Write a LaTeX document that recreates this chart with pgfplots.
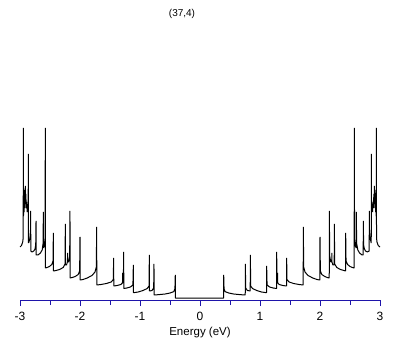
\documentclass[border=0pt]{standalone}
\usepackage{pgfplots}
\pgfplotsset{compat=1.18}
\usepackage{fontspec}
\setmainfont{Liberation Sans}
\definecolor{axblue}{RGB}{30,20,170}
\begin{document}
\begin{tikzpicture}
\path[use as bounding box] (0,0) rectangle (409pt,345pt);
\node[font=\fontsize{10}{12}\selectfont, anchor=base] at (182pt,328pt) {(37,4)};
\begin{axis}[
  at={(20pt,45pt)}, anchor=south west,
  width=360pt, height=174pt, scale only axis,
  xmin=-3, xmax=3, ymin=-2, ymax=172,
  axis x line*=bottom, axis y line=none,
  x axis line style={axblue, line width=1pt},
  xtick={-3,-2,-1,0,1,2,3},
  xticklabels={-3,-2,-1,0,1,2,3},
  minor xtick={-2.5,-1.5,-0.5,0.5,1.5,2.5},
  tick align=outside,
  major tick length=6pt, minor tick length=5pt,
  every tick/.style={axblue, line width=1pt},
  ytick=\empty,
  xticklabel style={font=\fontsize{12}{13}\selectfont, anchor=base, yshift=-14pt},
  xlabel={Energy (eV)},
  xlabel style={font=\fontsize{11.5}{13}\selectfont, at={(axis description cs:0.5,0)}, anchor=base, yshift=-35pt},
  clip=false,
]
\addplot[black, line width=1pt, line join=bevel] coordinates {
(-3.000,51) (-2.975,52.5) (-2.955,56) (-2.947,60)
(-2.944,170)
(-2.942,82) (-2.937,92) (-2.933,86) (-2.929,100) (-2.925,90) (-2.921,108) (-2.917,94) (-2.912,112) (-2.907,96) (-2.902,104) (-2.897,90) (-2.890,96) (-2.880,86) (-2.870,90) (-2.863,98)
(-2.861,144)
(-2.859,55) (-2.850,56) (-2.835,60) (-2.825,68)
(-2.822,87)
(-2.820,47) (-2.800,46) (-2.770,47) (-2.750,49) (-2.738,53)
(-2.733,77)
(-2.731,43) (-2.700,43) (-2.660,45) (-2.630,48) (-2.615,55)
(-2.611,86)
(-2.609,50) (-2.595,52) (-2.582,60)
(-2.578,170)
(-2.576,30) (-2.550,30.5) (-2.510,31.5) (-2.470,33.5) (-2.450,37)
(-2.444,65)
(-2.442,27) (-2.400,27.5) (-2.340,28.5) (-2.280,30.5) (-2.250,34)
(-2.244,74)
(-2.242,33) (-2.225,33) (-2.210,36)
(-2.206,45)
(-2.204,36) (-2.190,36) (-2.172,42)
(-2.167,87)
(-2.165,20) (-2.130,20.5) (-2.080,21.5) (-2.030,23.5) (-2.006,27)
(-2.000,61)
(-1.998,18) (-1.950,18.5) (-1.880,20) (-1.800,22.5) (-1.750,26) (-1.728,31)
(-1.722,71)
(-1.720,13) (-1.650,13.5) (-1.560,14.5) (-1.480,16) (-1.445,18.5)
(-1.439,40)
(-1.437,12) (-1.380,12.5) (-1.320,13.5) (-1.292,15)
(-1.289,25)
(-1.287,15) (-1.277,17)
(-1.272,46)
(-1.270,9.5) (-1.220,10) (-1.160,11) (-1.118,13)
(-1.111,33)
(-1.109,5.3) (-1.030,6) (-0.950,7.5) (-0.880,9.5) (-0.850,12)
(-0.844,43)
(-0.842,7) (-0.800,7.5) (-0.772,10)
(-0.767,34)
(-0.765,3) (-0.680,3.4) (-0.580,4) (-0.500,5) (-0.440,6.3) (-0.418,9)
(-0.412,23)
(-0.410,0) (0.393,0)
(0.395,23)
(0.401,9) (0.420,6.3) (0.480,5) (0.560,4) (0.660,3.4) (0.754,3)
(0.756,34)
(0.761,10) (0.790,7.5) (0.837,7)
(0.839,43)
(0.845,12) (0.875,9.5) (0.945,7.5) (1.025,6) (1.109,5.3)
(1.111,32)
(1.118,13) (1.160,11) (1.220,10) (1.276,9.5)
(1.278,46)
(1.283,17) (1.290,15)
(1.293,25)
(1.296,15) (1.320,13.5) (1.380,12.5) (1.442,12)
(1.444,40)
(1.450,18.5) (1.485,16) (1.560,14.5) (1.650,13.5) (1.720,13)
(1.722,71)
(1.728,31) (1.750,26) (1.800,22.5) (1.880,20) (1.950,18.5) (1.998,18)
(2.000,61)
(2.006,27) (2.030,23.5) (2.080,21.5) (2.120,20.5) (2.154,20)
(2.156,87)
(2.161,42) (2.180,36) (2.195,36)
(2.198,45)
(2.200,36) (2.215,33) (2.237,33)
(2.239,74)
(2.245,34) (2.280,30.5) (2.340,28.5) (2.400,27.5) (2.426,27)
(2.428,65)
(2.434,37) (2.460,33.5) (2.500,31.5) (2.540,30.5) (2.570,30)
(2.572,170)
(2.576,60) (2.590,52) (2.604,50)
(2.606,86)
(2.610,55) (2.630,48) (2.660,45) (2.700,43) (2.720,43)
(2.722,77)
(2.727,53) (2.740,49) (2.760,47) (2.790,46) (2.820,47)
(2.822,87)
(2.825,68) (2.835,60) (2.850,56) (2.854,55)
(2.856,144)
(2.858,98) (2.865,90) (2.875,86) (2.885,96) (2.892,90) (2.897,104) (2.902,96) (2.907,112) (2.912,94) (2.916,108) (2.920,90) (2.924,100) (2.928,86) (2.932,92) (2.937,82)
(2.939,170)
(2.942,60) (2.950,56) (2.970,52.5) (3.000,51)
};
\end{axis}
\end{tikzpicture}
\end{document}
